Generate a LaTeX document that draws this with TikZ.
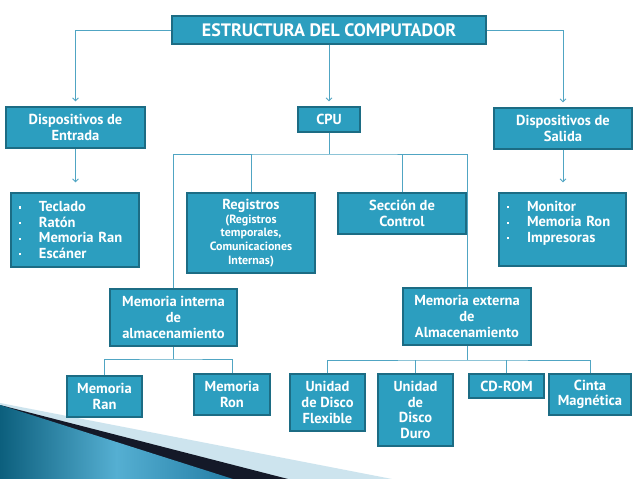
\documentclass[tikz,border=0pt]{standalone}
\usepackage{fontspec}
\setmainfont{PT Sans}
\usetikzlibrary{arrows.meta,shadows}
\definecolor{boxfill}{RGB}{44,158,191}
\definecolor{boxdraw}{RGB}{28,108,132}
\definecolor{linec}{RGB}{80,165,195}
\definecolor{decolight}{RGB}{205,228,238}
\definecolor{decodark}{RGB}{20,25,40}
\definecolor{decoblueA}{RGB}{12,95,125}
\definecolor{decoblueB}{RGB}{85,175,210}
\definecolor{decoblueC}{RGB}{35,125,165}
\newcommand{\bulit}{\hspace*{3pt}\makebox[20pt][l]{\raisebox{3pt}{\rule{2.2pt}{2.2pt}}}}
\begin{document}
\begin{tikzpicture}[x=1pt,y=-1pt,
  box/.style={draw=boxdraw, line width=1.3pt, fill=boxfill, text=white,
    font=\bfseries\fontsize{14.5}{15.6}\selectfont, align=center, inner sep=0pt,
    drop shadow={shadow xshift=1pt,shadow yshift=-1.2pt,opacity=0.35}},
  listbox/.style={box, align=left, inner xsep=5pt, inner ysep=0pt},
  conn/.style={draw=linec, line width=0.8pt},
  arr/.style={conn, -{Straight Barb[length=3pt,width=6pt]}, shorten >=5pt}]
\useasboundingbox[fill=white] (0,0) rectangle (638,479);

% decoration bottom left
\fill[decolight] (0,403) -- (392,479) -- (0,479) -- cycle;
\fill[decodark] (0,405) -- (288,479) -- (0,479) -- cycle;
\shade[left color=decoblueA, right color=decoblueC, middle color=decoblueB]
  (0,405) -- (233,479) -- (0,479) -- cycle;

% nodes
\node[box, minimum width=314pt, minimum height=28pt,
  font=\bfseries\fontsize{18}{19}\selectfont] (title) at (329,30) {ESTRUCTURA DEL COMPUTADOR};
\node[box, minimum width=139pt, minimum height=41pt] (entrada) at (75.5,127.5) {Dispositivos de\\Entrada};
\node[box, minimum width=62pt, minimum height=25pt] (cpu) at (329,119.5) {CPU};
\node[box, minimum width=138pt, minimum height=41pt] (salida) at (563,128.5) {Dispositivos de\\Salida};

\node[listbox, text width=118pt, minimum height=74pt] (lista1) at (75,230)
  {\bulit Teclado\\\bulit Ratón\\\bulit Memoria Ran\\\bulit Escáner};
\node[box, text width=128pt, minimum height=80pt] (registros) at (251,233)
  {Registros\par{\fontsize{12}{13.6}\selectfont (Registros\\temporales,\\Comunicaciones\\Internas)\par}};
\node[box, minimum width=128pt, minimum height=41pt] (seccion) at (402,213.5) {Sección de\\Control};
\node[listbox, text width=117pt, minimum height=73pt] (lista2) at (562.5,229.5)
  {\bulit Monitor\\\bulit Memoria Ron\\\bulit Impresoras\\\mbox{}};

\node[box, minimum width=127pt, minimum height=57pt] (meminterna) at (173.5,317.5) {Memoria interna\\de\\almacenamiento};
\node[box, minimum width=128pt, minimum height=57pt] (memexterna) at (467,316.5) {Memoria externa\\de\\Almacenamiento};

\node[box, minimum width=75pt, minimum height=41pt] (ran) at (104.5,396.5) {Memoria\\Ran};
\node[box, minimum width=76pt, minimum height=41pt] (ron) at (232,394.5) {Memoria\\Ron};
\node[box, minimum width=75pt, minimum height=57pt] (flexible) at (327.5,402.5) {Unidad\\de Disco\\Flexible};
\node[box, minimum width=75pt, minimum height=72pt] (duro) at (415.5,410) {Unidad\\de\\Disco\\Duro};
\node[box, minimum width=75pt, minimum height=24pt] (cdrom) at (506.5,386) {CD-ROM};
\node[box, minimum width=82pt, minimum height=41pt] (cinta) at (590,394.5) {Cinta\\Magnética};

% connectors
\draw[arr] (title.west) -| (entrada.north);
\draw[arr] (title.south) -- (cpu.north);
\draw[arr] (title.east) -| (salida.north);
\draw[arr, shorten >=10pt] (entrada.south) -- (entrada.south |- lista1.north);
\draw[arr, shorten >=10pt] (salida.south) -- (salida.south |- lista2.north);

\coordinate (cbus) at (329,154);
\draw[conn] (cpu.south) -- (cbus);
\draw[conn] (meminterna.north) |- (cbus) -| (memexterna.north);
\draw[conn] (registros.north) -- (registros.north |- cbus);
\draw[conn] (seccion.north) -- (seccion.north |- cbus);

\coordinate (ibus) at (173.5,359);
\draw[conn] (meminterna.south) -- (ibus);
\draw[conn] (ran.north) |- (ibus) -| (ron.north);

\coordinate (ebus) at (467,360);
\draw[conn] (memexterna.south) -- (ebus);
\draw[conn] (flexible.north) |- (ebus) -| (cinta.north);
\draw[conn] (duro.north) -- (duro.north |- ebus);
\draw[conn] (cdrom.north) -- (cdrom.north |- ebus);
\end{tikzpicture}
\end{document}
